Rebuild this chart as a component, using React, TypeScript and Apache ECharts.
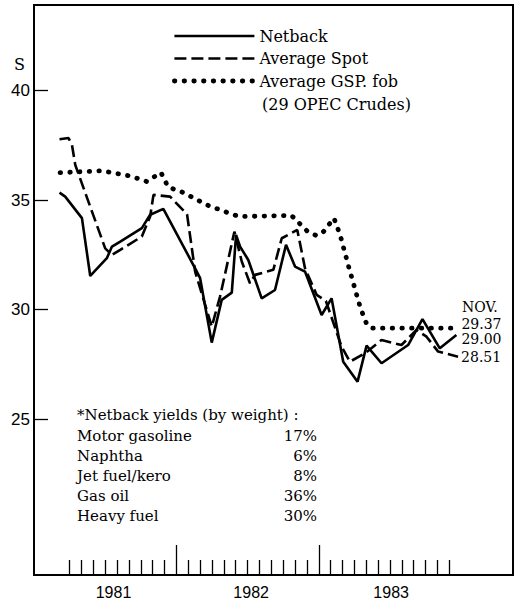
import React, { useEffect, useRef } from "react";
import * as echarts from "echarts";

// x = months since Jan 1981 (0 = Jan 1981), y = $ per barrel
const seriesNames = ["Netback", "Average Spot", "Average GSP. fob"];

const netback: [number, number][] = [
  [2.15, 35.34], [2.63, 35.16], [4.04, 34.18], [4.74, 31.54], [6.14, 32.35],
  [6.57, 32.88], [7.27, 33.11], [9.09, 33.72], [9.79, 34.33], [10.9, 34.6],
  [13.58, 31.89], [14.0, 31.44], [14.98, 28.5], [15.82, 30.45], [16.67, 30.78],
  [17.03, 33.41], [17.37, 32.88], [18.06, 32.27], [19.19, 30.52], [20.31, 30.9],
  [21.24, 32.96], [22.0, 31.97], [22.84, 31.74], [24.24, 29.76], [25.08, 30.52],
  [26.06, 27.63], [27.27, 26.72], [28.03, 28.36], [29.29, 27.56], [31.53, 28.39],
  [32.74, 29.57], [34.2, 28.24], [35.6, 28.85],
];

const averageSpot: [number, number][] = [
  [2.15, 37.78], [2.91, 37.83], [3.2, 37.52], [3.48, 36.6], [6.0, 32.8],
  [6.57, 32.5], [7.27, 32.73], [9.09, 33.34], [9.79, 34.25], [10.07, 35.24],
  [11.47, 35.16], [12.9, 34.35], [13.58, 31.74], [14.98, 29.23], [15.68, 30.6],
  [16.89, 33.56], [17.51, 32.2], [18.2, 31.21], [18.63, 31.59], [20.17, 31.82],
  [20.88, 33.26], [22.19, 33.64], [22.84, 31.89], [23.82, 30.68], [24.6, 30.4],
  [25.92, 28.32], [26.62, 27.63], [27.89, 28.01], [29.29, 28.62], [30.97, 28.39],
  [32.24, 29.08], [33.08, 28.77], [34.06, 28.09], [35.74, 27.86],
];

const averageGsp: [number, number][] = [
  [2.2, 36.25], [5.7, 36.34], [8.1, 36.1], [9.5, 35.85], [10.7, 36.26],
  [11.3, 35.6], [12.6, 35.34], [14.56, 34.78], [16.67, 34.36], [17.3, 34.25],
  [21.7, 34.3], [23.0, 33.6], [23.8, 33.38], [24.4, 33.56], [25.28, 34.18],
  [25.8, 33.41], [26.5, 32.0], [27.5, 30.1], [28.0, 29.4], [28.4, 29.16],
  [35.6, 29.16],
];

const endLabels = ["29.00", "28.51", "29.37"];
const endMonthLabel = "NOV.";

const yTicks = [25, 30, 35, 40];
const monthTicks = [3, 4, 5, 6, 7, 8, 9, 10, 11, 13, 14, 15, 16, 17, 18, 19, 20, 21, 22, 23, 25, 26, 27, 28, 29, 30, 31, 32, 33, 34, 35];
const yearTicks = [12, 24];
const yearLabelPos = [6.7, 18.3, 30.1];
const yearLabels = ["1981", "1982", "1983"];

const yieldTitle = "*Netback yields (by weight) :";
const yieldProducts = ["Motor gasoline", "Naphtha", "Jet fuel/kero", "Gas oil", "Heavy fuel"];
const yieldShares = ["17%", "6%", "8%", "36%", "30%"];

const SERIF = "DejaVu Serif";
const SANS = "Liberation Sans";

export default function App() {
  const ref = useRef<HTMLDivElement>(null);

  useEffect(() => {
    if (!ref.current) return;
    const chart = echarts.init(ref.current, null, { renderer: "svg" });

    const graphics: any[] = [
      { type: "text", left: 14, top: 56, style: { text: "S", font: `16px "${SERIF}"`, fill: "#000" } },
      { type: "text", left: 262, top: 96, style: { text: "(29 OPEC Crudes)", font: `16px "${SERIF}"`, fill: "#000" } },
      { type: "text", left: 462, top: 300, style: { text: endMonthLabel, font: `14px "${SERIF}"`, fill: "#000" } },
      { type: "text", left: 77, top: 407, style: { text: yieldTitle, font: `15px "${SERIF}"`, fill: "#000" } },
    ];
    yieldProducts.forEach((p, i) => {
      graphics.push({ type: "text", left: 77, top: 428 + i * 20, style: { text: p, font: `15px "${SERIF}"`, fill: "#000" } });
      graphics.push({ type: "text", right: 531 - 317, top: 428 + i * 20, style: { text: yieldShares[i], font: `15px "${SERIF}"`, fill: "#000" } });
    });

    const mkEnd = (i: number, dx: number, dy: number) => ({
      show: true,
      formatter: () => endLabels[i],
      distance: 0,
      offset: [dx, dy],
      color: "#000",
      fontFamily: SERIF,
      fontSize: 14,
    });

    chart.setOption({
      animation: false,
      grid: { left: 34, right: 18, top: 5, bottom: 25, show: true, borderColor: "#000", borderWidth: 2, backgroundColor: "transparent" },
      legend: {
        orient: "vertical",
        left: 172,
        top: 27,
        padding: 0,
        itemWidth: 80,
        itemHeight: 14,
        itemGap: 4.5,
        data: seriesNames,
        itemStyle: { opacity: 0 },
        lineStyle: { width: "inherit" },
        textStyle: { fontFamily: SERIF, fontSize: 16, color: "#000", lineHeight: 18 },
      },
      xAxis: [
        {
          type: "value", min: 0, max: 40.37, position: "bottom",
          axisLine: { show: false }, splitLine: { show: false },
          axisTick: { show: true, inside: true, length: 15, customValues: monthTicks, lineStyle: { color: "#000", width: 1.3 } },
          axisLabel: {
            show: true, customValues: yearLabelPos, margin: 9,
            formatter: (v: number) => yearLabels[Math.floor(v / 12)],
            color: "#000", fontFamily: SANS, fontSize: 16,
          },
        },
        {
          type: "value", min: 0, max: 40.37, position: "bottom",
          axisLine: { show: false }, splitLine: { show: false },
          axisTick: { show: true, inside: true, length: 30, customValues: yearTicks, lineStyle: { color: "#000", width: 1.3 } },
          axisLabel: { show: false },
        },
      ],
      yAxis: {
        type: "value", min: 17.9, max: 43.9,
        axisLine: { show: false }, splitLine: { show: false },
        axisTick: { show: true, inside: true, length: 14, customValues: yTicks, lineStyle: { color: "#000", width: 1.3 } },
        axisLabel: { customValues: yTicks, color: "#000", fontFamily: SANS, fontSize: 17, margin: 4 },
      },
      series: [
        {
          name: seriesNames[0], type: "line", data: netback, symbol: "none", xAxisIndex: 0,
          lineStyle: { color: "#000", width: 2.6, type: "solid" }, itemStyle: { color: "#000" },
          endLabel: mkEnd(0, 5, 4),
        },
        {
          name: seriesNames[1], type: "line", data: averageSpot, symbol: "none", xAxisIndex: 0,
          lineStyle: { color: "#000", width: 2.6, type: [12, 5] }, itemStyle: { color: "#000" },
          endLabel: mkEnd(1, 3, 0),
        },
        {
          name: seriesNames[2], type: "line", data: averageGsp, symbol: "none", xAxisIndex: 0,
          lineStyle: { color: "#000", width: 4.8, type: [0.5, 9.2], cap: "round" }, itemStyle: { color: "#000" },
          endLabel: mkEnd(2, 5, -4),
        },
      ],
      graphic: graphics,
    });

    return () => chart.dispose();
  }, []);

  return <div ref={ref} style={{ position: "fixed", left: 0, top: 0, width: 531, height: 600, background: "#fff" }} />;
}
